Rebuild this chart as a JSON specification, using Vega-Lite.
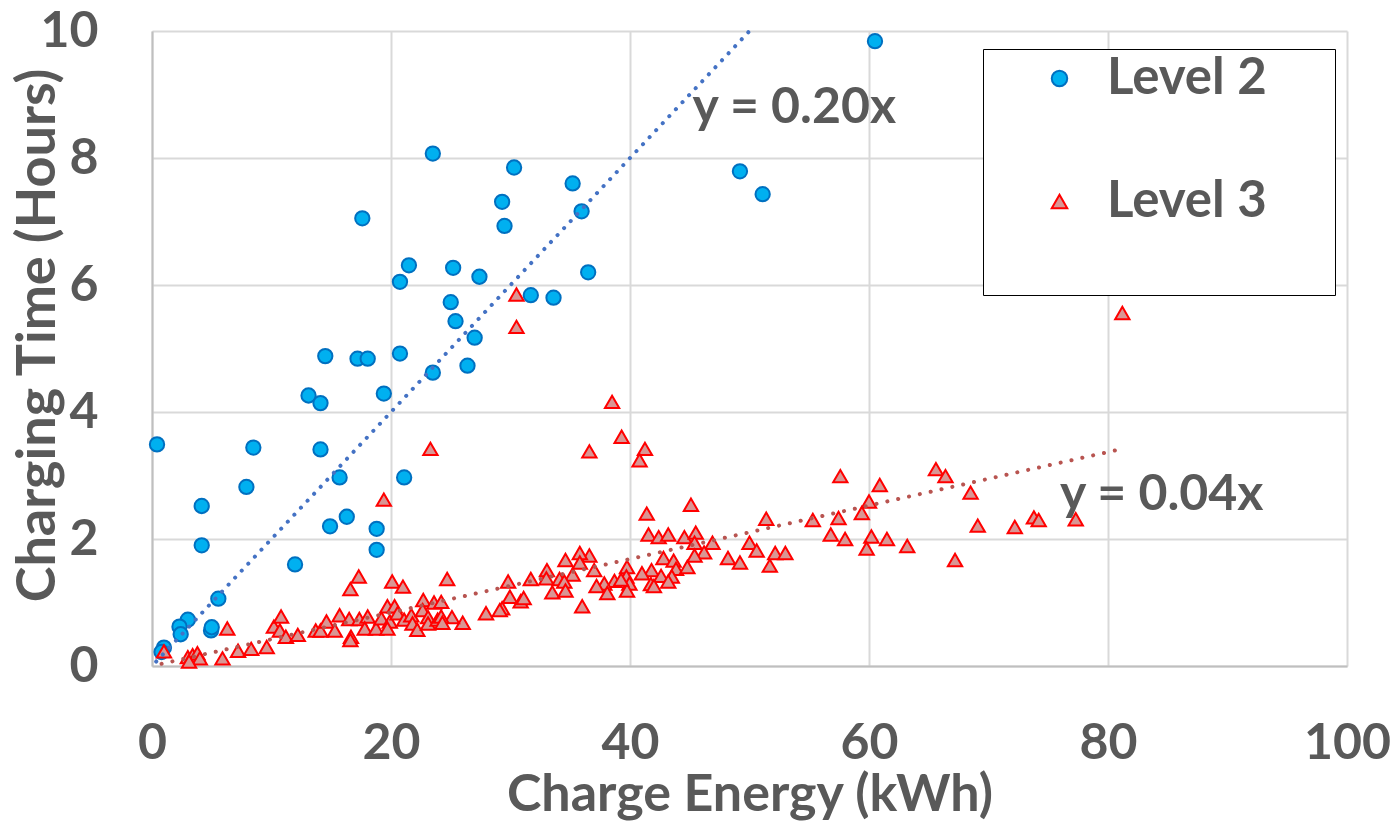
{
  "$schema": "https://vega.github.io/schema/vega-lite/v6.json",
  "width": 1195,
  "height": 635,
  "autosize": {"type": "none"},
  "padding": {"left": 152, "top": 31, "right": 53, "bottom": 155},
  "background": "#ffffff",
  "config": {
    "view": {"stroke": null},
    "font": "Lato",
    "axis": {
      "grid": true,
      "gridColor": "#D9D9D9",
      "gridWidth": 2,
      "domainColor": "#BFBFBF",
      "domainWidth": 2,
      "ticks": false,
      "labelFlush": false,
      "labelFont": "Lato",
      "labelFontSize": 50,
      "labelFontWeight": "bold",
      "labelColor": "#595959",
      "titleFont": "Lato",
      "titleFontSize": 53,
      "titleFontWeight": "bold",
      "titleColor": "#595959"
    }
  },
  "datasets": {
    "points": [
      {"level": "Level 2", "energy": 0.42, "hours": 3.49},
      {"level": "Level 2", "energy": 1.0, "hours": 0.29},
      {"level": "Level 2", "energy": 0.8, "hours": 0.22},
      {"level": "Level 2", "energy": 3.0, "hours": 0.73},
      {"level": "Level 2", "energy": 2.3, "hours": 0.62},
      {"level": "Level 2", "energy": 2.4, "hours": 0.5},
      {"level": "Level 2", "energy": 5.55, "hours": 1.06},
      {"level": "Level 2", "energy": 4.94, "hours": 0.56},
      {"level": "Level 2", "energy": 5.0, "hours": 0.61},
      {"level": "Level 2", "energy": 4.16, "hours": 1.9},
      {"level": "Level 2", "energy": 4.16, "hours": 2.52},
      {"level": "Level 2", "energy": 7.9, "hours": 2.82},
      {"level": "Level 2", "energy": 8.48, "hours": 3.44},
      {"level": "Level 2", "energy": 11.97, "hours": 1.6},
      {"level": "Level 2", "energy": 13.1, "hours": 4.26},
      {"level": "Level 2", "energy": 14.1, "hours": 4.14},
      {"level": "Level 2", "energy": 14.1, "hours": 3.41},
      {"level": "Level 2", "energy": 15.7, "hours": 2.97},
      {"level": "Level 2", "energy": 14.9, "hours": 2.2},
      {"level": "Level 2", "energy": 16.3, "hours": 2.35},
      {"level": "Level 2", "energy": 18.8, "hours": 2.16},
      {"level": "Level 2", "energy": 18.8, "hours": 1.83},
      {"level": "Level 2", "energy": 19.4, "hours": 4.29},
      {"level": "Level 2", "energy": 21.1, "hours": 2.97},
      {"level": "Level 2", "energy": 23.5, "hours": 8.07},
      {"level": "Level 2", "energy": 17.6, "hours": 7.05},
      {"level": "Level 2", "energy": 21.5, "hours": 6.31},
      {"level": "Level 2", "energy": 20.75, "hours": 6.05},
      {"level": "Level 2", "energy": 14.5, "hours": 4.88},
      {"level": "Level 2", "energy": 17.2, "hours": 4.84},
      {"level": "Level 2", "energy": 18.05, "hours": 4.84},
      {"level": "Level 2", "energy": 20.75, "hours": 4.92},
      {"level": "Level 2", "energy": 23.5, "hours": 4.62},
      {"level": "Level 2", "energy": 30.3, "hours": 7.85},
      {"level": "Level 2", "energy": 35.2, "hours": 7.6},
      {"level": "Level 2", "energy": 29.3, "hours": 7.31},
      {"level": "Level 2", "energy": 29.5, "hours": 6.93},
      {"level": "Level 2", "energy": 35.95, "hours": 7.16},
      {"level": "Level 2", "energy": 25.2, "hours": 6.27},
      {"level": "Level 2", "energy": 27.4, "hours": 6.13},
      {"level": "Level 2", "energy": 36.5, "hours": 6.2},
      {"level": "Level 2", "energy": 31.7, "hours": 5.84},
      {"level": "Level 2", "energy": 33.6, "hours": 5.8},
      {"level": "Level 2", "energy": 25.0, "hours": 5.73},
      {"level": "Level 2", "energy": 25.4, "hours": 5.43},
      {"level": "Level 2", "energy": 27.0, "hours": 5.17},
      {"level": "Level 2", "energy": 26.4, "hours": 4.73},
      {"level": "Level 2", "energy": 60.5, "hours": 9.84},
      {"level": "Level 2", "energy": 49.2, "hours": 7.79},
      {"level": "Level 2", "energy": 51.1, "hours": 7.43},
      {"level": "Level 3", "energy": 23.3, "hours": 3.42},
      {"level": "Level 3", "energy": 19.4, "hours": 2.62},
      {"level": "Level 3", "energy": 17.3, "hours": 1.41},
      {"level": "Level 3", "energy": 16.6, "hours": 1.21},
      {"level": "Level 3", "energy": 20.1, "hours": 1.33},
      {"level": "Level 3", "energy": 21.0, "hours": 1.25},
      {"level": "Level 3", "energy": 22.7, "hours": 1.04},
      {"level": "Level 3", "energy": 23.6, "hours": 1.0},
      {"level": "Level 3", "energy": 6.3, "hours": 0.59},
      {"level": "Level 3", "energy": 1.0, "hours": 0.23},
      {"level": "Level 3", "energy": 3.0, "hours": 0.14},
      {"level": "Level 3", "energy": 3.4, "hours": 0.17},
      {"level": "Level 3", "energy": 3.8, "hours": 0.2},
      {"level": "Level 3", "energy": 4.0, "hours": 0.12},
      {"level": "Level 3", "energy": 3.1, "hours": 0.07},
      {"level": "Level 3", "energy": 5.9, "hours": 0.12},
      {"level": "Level 3", "energy": 7.2, "hours": 0.24},
      {"level": "Level 3", "energy": 8.3, "hours": 0.27},
      {"level": "Level 3", "energy": 9.6, "hours": 0.3},
      {"level": "Level 3", "energy": 10.2, "hours": 0.62},
      {"level": "Level 3", "energy": 10.8, "hours": 0.78},
      {"level": "Level 3", "energy": 10.7, "hours": 0.56},
      {"level": "Level 3", "energy": 11.2, "hours": 0.46},
      {"level": "Level 3", "energy": 12.2, "hours": 0.49},
      {"level": "Level 3", "energy": 13.7, "hours": 0.56},
      {"level": "Level 3", "energy": 14.1, "hours": 0.56},
      {"level": "Level 3", "energy": 14.6, "hours": 0.7},
      {"level": "Level 3", "energy": 15.3, "hours": 0.56},
      {"level": "Level 3", "energy": 15.7, "hours": 0.8},
      {"level": "Level 3", "energy": 16.5, "hours": 0.74},
      {"level": "Level 3", "energy": 16.65, "hours": 0.46},
      {"level": "Level 3", "energy": 16.6, "hours": 0.41},
      {"level": "Level 3", "energy": 17.35, "hours": 0.74},
      {"level": "Level 3", "energy": 18.05, "hours": 0.78},
      {"level": "Level 3", "energy": 17.8, "hours": 0.59},
      {"level": "Level 3", "energy": 18.75, "hours": 0.59},
      {"level": "Level 3", "energy": 19.2, "hours": 0.75},
      {"level": "Level 3", "energy": 19.7, "hours": 0.94},
      {"level": "Level 3", "energy": 20.3, "hours": 0.94},
      {"level": "Level 3", "energy": 19.9, "hours": 0.7},
      {"level": "Level 3", "energy": 20.55, "hours": 0.83},
      {"level": "Level 3", "energy": 19.7, "hours": 0.59},
      {"level": "Level 3", "energy": 21.1, "hours": 0.73},
      {"level": "Level 3", "energy": 21.7, "hours": 0.8},
      {"level": "Level 3", "energy": 21.8, "hours": 0.67},
      {"level": "Level 3", "energy": 22.2, "hours": 0.57},
      {"level": "Level 3", "energy": 22.65, "hours": 0.88},
      {"level": "Level 3", "energy": 23.1, "hours": 0.77},
      {"level": "Level 3", "energy": 23.1, "hours": 0.67},
      {"level": "Level 3", "energy": 23.9, "hours": 0.73},
      {"level": "Level 3", "energy": 30.5, "hours": 5.85},
      {"level": "Level 3", "energy": 30.5, "hours": 5.34},
      {"level": "Level 3", "energy": 38.5, "hours": 4.16},
      {"level": "Level 3", "energy": 39.3, "hours": 3.61},
      {"level": "Level 3", "energy": 36.6, "hours": 3.38},
      {"level": "Level 3", "energy": 41.25, "hours": 3.42},
      {"level": "Level 3", "energy": 40.8, "hours": 3.24},
      {"level": "Level 3", "energy": 41.4, "hours": 2.4},
      {"level": "Level 3", "energy": 45.1, "hours": 2.54},
      {"level": "Level 3", "energy": 41.55, "hours": 2.07},
      {"level": "Level 3", "energy": 42.4, "hours": 2.03},
      {"level": "Level 3", "energy": 43.2, "hours": 2.07},
      {"level": "Level 3", "energy": 44.55, "hours": 2.03},
      {"level": "Level 3", "energy": 45.5, "hours": 2.1},
      {"level": "Level 3", "energy": 45.4, "hours": 1.94},
      {"level": "Level 3", "energy": 46.9, "hours": 1.94},
      {"level": "Level 3", "energy": 46.2, "hours": 1.79},
      {"level": "Level 3", "energy": 45.4, "hours": 1.74},
      {"level": "Level 3", "energy": 48.2, "hours": 1.7},
      {"level": "Level 3", "energy": 42.8, "hours": 1.7},
      {"level": "Level 3", "energy": 43.65, "hours": 1.66},
      {"level": "Level 3", "energy": 43.85, "hours": 1.53},
      {"level": "Level 3", "energy": 44.8, "hours": 1.56},
      {"level": "Level 3", "energy": 41.8, "hours": 1.51},
      {"level": "Level 3", "energy": 41.0, "hours": 1.46},
      {"level": "Level 3", "energy": 42.6, "hours": 1.42},
      {"level": "Level 3", "energy": 43.5, "hours": 1.41},
      {"level": "Level 3", "energy": 41.75, "hours": 1.29},
      {"level": "Level 3", "energy": 42.0, "hours": 1.26},
      {"level": "Level 3", "energy": 43.2, "hours": 1.33},
      {"level": "Level 3", "energy": 39.75, "hours": 1.56},
      {"level": "Level 3", "energy": 39.7, "hours": 1.41},
      {"level": "Level 3", "energy": 39.95, "hours": 1.3},
      {"level": "Level 3", "energy": 39.75, "hours": 1.19},
      {"level": "Level 3", "energy": 38.7, "hours": 1.34},
      {"level": "Level 3", "energy": 39.25, "hours": 1.36},
      {"level": "Level 3", "energy": 37.85, "hours": 1.3},
      {"level": "Level 3", "energy": 37.2, "hours": 1.26},
      {"level": "Level 3", "energy": 38.1, "hours": 1.15},
      {"level": "Level 3", "energy": 37.0, "hours": 1.51},
      {"level": "Level 3", "energy": 36.6, "hours": 1.74},
      {"level": "Level 3", "energy": 35.8, "hours": 1.78},
      {"level": "Level 3", "energy": 35.8, "hours": 1.63},
      {"level": "Level 3", "energy": 34.6, "hours": 1.67},
      {"level": "Level 3", "energy": 35.2, "hours": 1.44},
      {"level": "Level 3", "energy": 34.1, "hours": 1.37},
      {"level": "Level 3", "energy": 34.5, "hours": 1.33},
      {"level": "Level 3", "energy": 33.05, "hours": 1.51},
      {"level": "Level 3", "energy": 33.0, "hours": 1.38},
      {"level": "Level 3", "energy": 33.5, "hours": 1.16},
      {"level": "Level 3", "energy": 34.6, "hours": 1.19},
      {"level": "Level 3", "energy": 36.0, "hours": 0.94},
      {"level": "Level 3", "energy": 31.7, "hours": 1.37},
      {"level": "Level 3", "energy": 30.85, "hours": 1.02},
      {"level": "Level 3", "energy": 31.1, "hours": 1.07},
      {"level": "Level 3", "energy": 29.8, "hours": 1.33},
      {"level": "Level 3", "energy": 29.95, "hours": 1.09},
      {"level": "Level 3", "energy": 29.3, "hours": 0.91},
      {"level": "Level 3", "energy": 29.1, "hours": 0.88},
      {"level": "Level 3", "energy": 27.95, "hours": 0.83},
      {"level": "Level 3", "energy": 24.7, "hours": 1.37},
      {"level": "Level 3", "energy": 26.0, "hours": 0.68},
      {"level": "Level 3", "energy": 25.1, "hours": 0.77},
      {"level": "Level 3", "energy": 24.2, "hours": 0.78},
      {"level": "Level 3", "energy": 24.3, "hours": 0.68},
      {"level": "Level 3", "energy": 24.2, "hours": 1.01},
      {"level": "Level 3", "energy": 81.2, "hours": 5.56},
      {"level": "Level 3", "energy": 57.6, "hours": 2.99},
      {"level": "Level 3", "energy": 65.6, "hours": 3.1},
      {"level": "Level 3", "energy": 66.4, "hours": 2.99},
      {"level": "Level 3", "energy": 60.9, "hours": 2.85},
      {"level": "Level 3", "energy": 60.0, "hours": 2.59},
      {"level": "Level 3", "energy": 68.5, "hours": 2.73},
      {"level": "Level 3", "energy": 51.4, "hours": 2.32},
      {"level": "Level 3", "energy": 55.3, "hours": 2.3},
      {"level": "Level 3", "energy": 57.45, "hours": 2.33},
      {"level": "Level 3", "energy": 59.4, "hours": 2.41},
      {"level": "Level 3", "energy": 56.8, "hours": 2.07},
      {"level": "Level 3", "energy": 58.0, "hours": 2.0},
      {"level": "Level 3", "energy": 60.2, "hours": 2.04},
      {"level": "Level 3", "energy": 59.8, "hours": 1.85},
      {"level": "Level 3", "energy": 61.5, "hours": 2.0},
      {"level": "Level 3", "energy": 63.2, "hours": 1.89},
      {"level": "Level 3", "energy": 69.1, "hours": 2.21},
      {"level": "Level 3", "energy": 72.2, "hours": 2.19},
      {"level": "Level 3", "energy": 73.8, "hours": 2.34},
      {"level": "Level 3", "energy": 74.2, "hours": 2.3},
      {"level": "Level 3", "energy": 77.3, "hours": 2.31},
      {"level": "Level 3", "energy": 67.2, "hours": 1.67},
      {"level": "Level 3", "energy": 49.2, "hours": 1.63},
      {"level": "Level 3", "energy": 50.0, "hours": 1.94},
      {"level": "Level 3", "energy": 50.6, "hours": 1.82},
      {"level": "Level 3", "energy": 51.7, "hours": 1.58},
      {"level": "Level 3", "energy": 52.15, "hours": 1.78},
      {"level": "Level 3", "energy": 53.0, "hours": 1.78}
    ],
    "trends": [
      {"level": "Level 2", "energy": 0.35, "hours": 0.07},
      {"level": "Level 2", "energy": 50.0, "hours": 10.0},
      {"level": "Level 3", "energy": 0.8, "hours": 0.034},
      {"level": "Level 3", "energy": 81.2, "hours": 3.42}
    ],
    "labels": [
      {"text": "y = 0.20x", "energy": 53.75, "hours": 8.79},
      {"text": "y = 0.04x", "energy": 84.5, "hours": 2.7}
    ]
  },
  "layer": [
    {
      "data": {"name": "points"},
      "mark": {"type": "point", "filled": true, "opacity": 1, "strokeWidth": 2, "size": 205},
      "encoding": {
        "x": {
          "field": "energy", "type": "quantitative",
          "scale": {"domain": [0, 100], "nice": false},
          "axis": {"values": [0, 20, 40, 60, 80, 100], "format": "d", "labelPadding": 52, "title": "Charge Energy (kWh)", "titleFontSize": 52, "titleY": 103, "titleBaseline": "top"}
        },
        "y": {
          "field": "hours", "type": "quantitative",
          "scale": {"domain": [0, 10], "nice": false},
          "axis": {"values": [0, 2, 4, 6, 8, 10], "format": "d", "labelPadding": 54, "title": "Charging Time (Hours)", "titleFontSize": 54, "titleX": -87, "titleY": 304, "titleAngle": -90, "titleAlign": "center", "titleBaseline": "bottom"}
        },
        "shape": {
          "field": "level", "type": "nominal",
          "scale": {"domain": ["Level 2", "Level 3"], "range": ["circle", "triangle-up"]},
          "legend": {
            "title": " ",
            "titleOrient": "top",
            "titlePadding": -66,
            "titleFontSize": 2,
            "orient": "none",
            "legendX": 831,
            "legendY": 18,
            "padding": 68,
            "strokeColor": "#000000",
            "fillColor": "#ffffff",
            "symbolOffset": -17,
            "labelOffset": 22,
            "rowPadding": 71,
            "symbolSize": 240,
            "symbolStrokeWidth": 2,
            "labelFont": "Lato",
            "labelFontSize": 51,
            "labelFontWeight": "bold",
            "labelColor": "#595959",
            "labelLimit": 500,
            "encode": {
              "legend": {"update": {"strokeWidth": {"value": 2}}}
            }
          }
        },
        "fill": {
          "field": "level", "type": "nominal",
          "scale": {"domain": ["Level 2", "Level 3"], "range": ["#00B0F0", "#D99694"]},
          "legend": null
        },
        "stroke": {
          "field": "level", "type": "nominal",
          "scale": {"domain": ["Level 2", "Level 3"], "range": ["#0070C0", "#FF0000"]},
          "legend": null
        }
      }
    },
    {
      "data": {"name": "trends"},
      "transform": [{"filter": "datum.level == 'Level 2'"}],
      "mark": {"type": "line", "color": "#4472C4", "strokeWidth": 4, "strokeCap": "round", "strokeDash": [0.1, 9.5]},
      "encoding": {
        "x": {"field": "energy", "type": "quantitative"},
        "y": {"field": "hours", "type": "quantitative"}
      }
    },
    {
      "data": {"name": "trends"},
      "transform": [{"filter": "datum.level == 'Level 3'"}],
      "mark": {"type": "line", "color": "#B85450", "strokeWidth": 4, "strokeCap": "round", "strokeDash": [0.1, 11]},
      "encoding": {
        "x": {"field": "energy", "type": "quantitative"},
        "y": {"field": "hours", "type": "quantitative"}
      }
    },
    {
      "data": {"name": "labels"},
      "mark": {"type": "text", "font": "Lato", "fontSize": 50, "fontWeight": "bold", "color": "#595959", "align": "center", "baseline": "middle"},
      "encoding": {
        "x": {"field": "energy", "type": "quantitative"},
        "y": {"field": "hours", "type": "quantitative"},
        "text": {"field": "text"}
      }
    }
  ]
}
